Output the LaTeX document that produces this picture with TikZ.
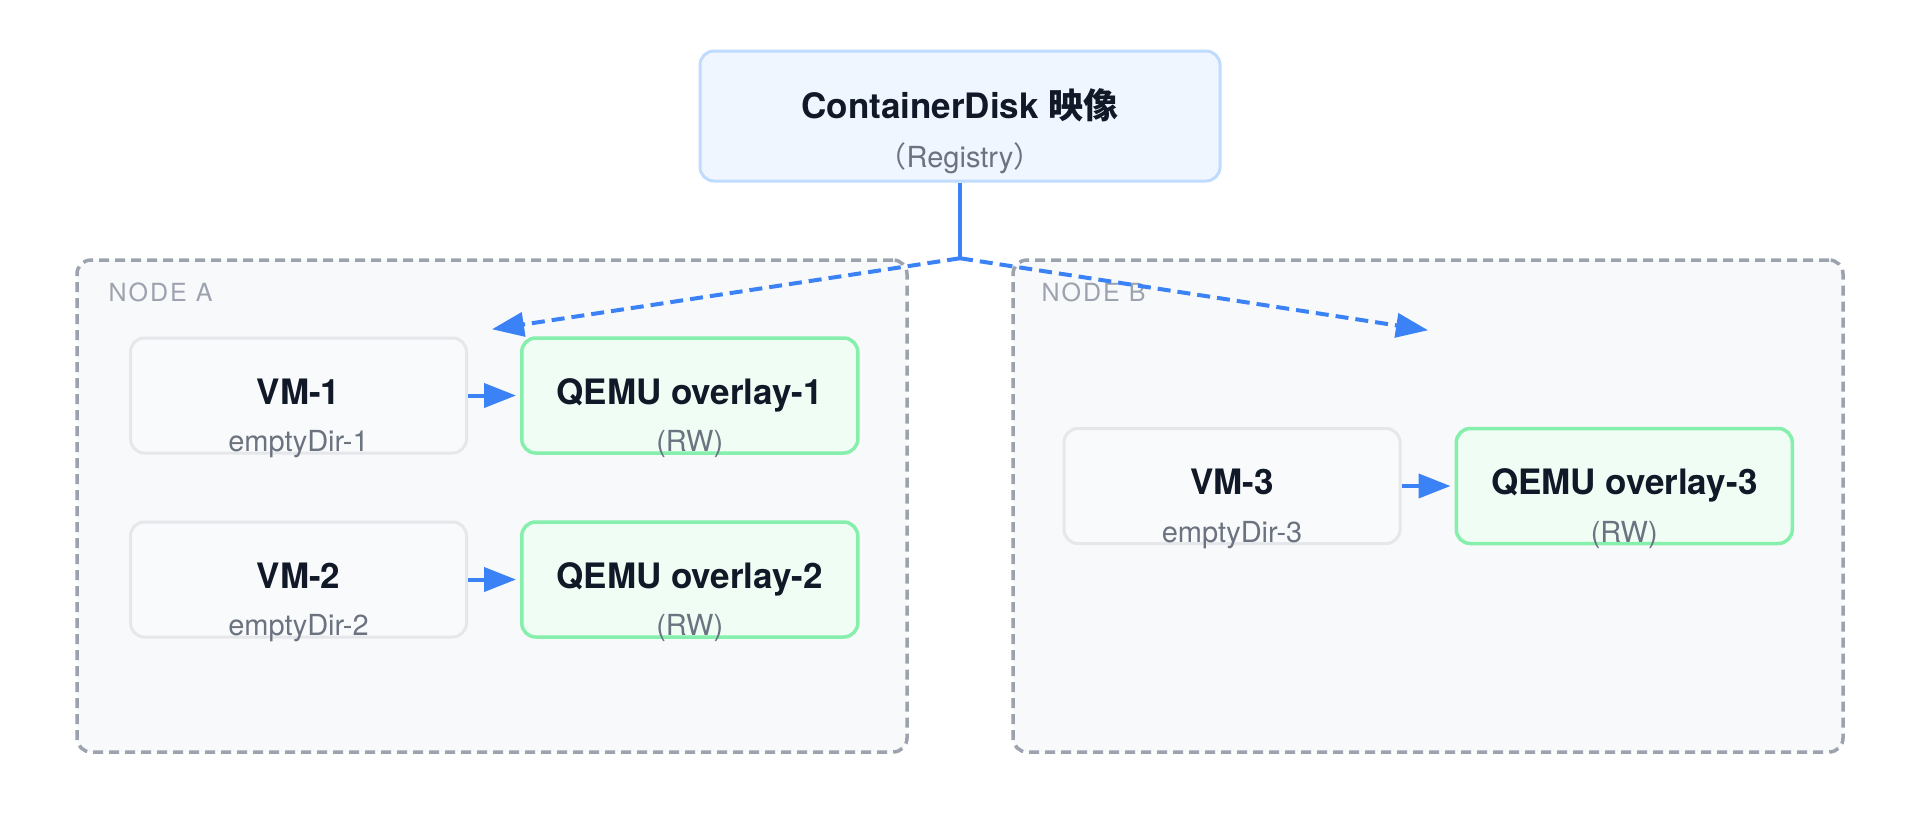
\documentclass[tikz,border=0pt]{standalone}
\usepackage{fontspec}
\setmainfont{TeX Gyre Heros}
\newfontfamily\cjk{Noto Sans CJK SC}
\usetikzlibrary{arrows.meta,positioning}
\definecolor{ink}{HTML}{111827}
\definecolor{muted}{HTML}{6B7280}
\definecolor{faint}{HTML}{9CA3AF}
\definecolor{flowblue}{HTML}{3B82F6}
\definecolor{diskfill}{HTML}{EFF6FF}
\definecolor{diskline}{HTML}{BFDBFE}
\definecolor{hostfill}{HTML}{F8F9FB}
\definecolor{vmfill}{HTML}{F9FAFB}
\definecolor{vmline}{HTML}{E5E7EB}
\definecolor{qemufill}{HTML}{F0FDF4}
\definecolor{qemuline}{HTML}{86EFAC}
\tikzset{
  box/.style={rounded corners=7pt, line width=1.5pt, align=center, inner sep=0pt,
    font=\fontsize{17.5}{21}\selectfont\bfseries, text=ink, text height=0.85em, text depth=0pt},
  disk/.style={box, draw=diskline, fill=diskfill, minimum width=260pt, minimum height=65pt},
  host/.style={draw=faint, fill=hostfill, rounded corners=7pt, line width=1.75pt,
    dash pattern=on 5pt off 3pt, minimum width=415pt, minimum height=246pt, inner sep=0pt},
  vm/.style={box, draw=vmline, fill=vmfill, minimum width=168pt, minimum height=57.5pt},
  qemu/.style={box, draw=qemuline, fill=qemufill, line width=1.75pt, minimum width=168pt, minimum height=57.5pt},
  titletext/.style={font=\fontsize{17.5}{21}\selectfont\bfseries, text=ink, anchor=center,
    text height=0.72em, text depth=0pt, yshift=2.5pt},
  subtext/.style={font=\fontsize{14.5}{17}\selectfont, text=muted, anchor=center, yshift=4pt,
    text height=0.72em, text depth=0.2em},
  hostlabel/.style={font=\fontsize{12.5}{15}\selectfont\addfontfeature{LetterSpace=8}, text=faint,
    anchor=west, inner sep=0pt},
  flow/.style={-{Triangle[length=16pt,width=12pt]}, flowblue, line width=2pt},
  feed/.style={flow, dash pattern=on 6.5pt off 3.5pt},
}
\begin{document}
\begin{tikzpicture}[x=0.5pt, y=-0.5pt, node distance=26pt]
    \path[fill=white, use as bounding box] (0,0) rectangle (1920,831);
    \node[host] (nodea) at (492,506) {};
    \node[host] (nodeb) at (1428,506) {};
    \node[hostlabel] (labela) at ([xshift=16.5pt,yshift=-17pt]nodea.north west) {NODE A};
    \node[hostlabel] (labelb) at ([xshift=15pt,yshift=-17pt]nodeb.north west) {NODE B};
    \node[disk, label={[titletext]center:ContainerDisk {\cjk 映像}},
      label={[subtext, yshift=6.3pt]south:{\cjk （}Registry{\cjk ）}}] (disk) at (960,116) {};
    \coordinate (split) at (disk.south |- nodea.north);
    \coordinate (tipa) at ([yshift=-35.5pt]nodea.north);
    \coordinate (tipb) at ([yshift=-36pt]nodeb.north);
    \draw[flowblue, line width=2pt] (disk.south) -- (split);
    \draw[feed] (split) -- (tipa);
    \draw[feed] (split) -- (tipb);
    \node[vm, label={[subtext]south:emptyDir-1}] (vm1) at (298.5,395.5) {VM-1};
    \node[qemu, right=of vm1, label={[subtext]south:(RW)}] (ov1) {QEMU overlay-1};
    \node[vm, below=33pt of vm1, label={[subtext]south:emptyDir-2}] (vm2) {VM-2};
    \node[qemu, right=of vm2, label={[subtext]south:(RW)}] (ov2) {QEMU overlay-2};
    \node[vm, label={[subtext]south:emptyDir-3}] (vm3) at (1232,486) {VM-3};
    \node[qemu, right=26.5pt of vm3, label={[subtext]south:(RW)}] (ov3) {QEMU overlay-3};
    \draw[flow, shorten >=2pt] (vm1) -- (ov1);
    \draw[flow, shorten >=2pt] (vm2) -- (ov2);
    \draw[flow, shorten >=2pt] (vm3) -- (ov3);
  \end{tikzpicture}
\end{document}
